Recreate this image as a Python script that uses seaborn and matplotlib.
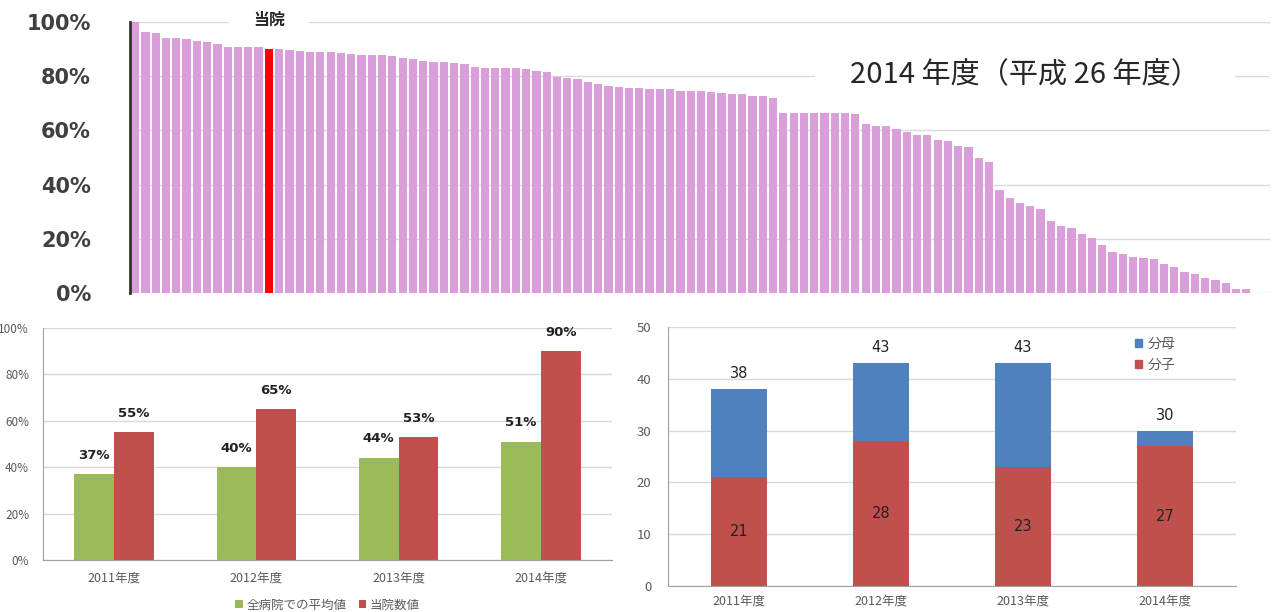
import numpy as np
import pandas as pd
import matplotlib
matplotlib.use("Agg")
import matplotlib.pyplot as plt
import seaborn as sns
from matplotlib.patches import Patch

sns.set_style("white")
plt.rcParams['font.family'] = ['Noto Sans CJK JP', 'DejaVu Sans']

# top chart : rate per hospital, sorted (2014)
rates_2014 = [100, 96.4, 95.8, 94.2, 94.2, 93.6, 93.0, 92.7, 91.8, 90.9, 90.9, 90.8, 90.6, 90.0,
              89.9, 89.5, 89.3, 88.9, 88.9, 88.8, 88.6, 88.2, 88.0, 87.9, 87.7, 87.6, 86.9,
              86.3, 85.6, 85.4, 85.4, 85.0, 84.4, 83.5, 83.1, 83.1, 83.1, 83.1, 82.8, 82.0, 81.7,
              79.8, 79.4, 78.8, 78.0, 77.1, 76.5, 76.1, 75.8, 75.5, 75.2, 75.1, 75.1, 74.7,
              74.5, 74.5, 74.3, 73.7, 73.3, 73.3, 72.7, 72.7, 71.8, 66.5, 66.5, 66.5, 66.5,
              66.5, 66.5, 66.5, 65.9, 62.2, 61.6, 61.6, 60.4, 59.5, 58.3, 58.3, 56.5, 56.1,
              54.2, 53.8, 49.9, 48.5, 38.0, 34.9, 33.3, 32.2, 30.9, 26.6, 24.8, 23.9, 21.9,
              20.4, 17.7, 15.0, 14.4, 13.4, 12.8, 12.4, 10.6, 9.7, 7.9, 7.0, 5.4, 4.8, 3.8, 1.5, 1.5]
own_index = 13

years = ["2011年度", "2012年度", "2013年度", "2014年度"]
avg_all = [37, 40, 44, 51]
own_rate = [55, 65, 53, 90]
denominator = [38, 43, 43, 30]
numerator = [21, 28, 23, 27]

PINK = "#DA9EDA"
OWN = "#FF0000"
GREEN = "#9BBB59"
RED = "#C0504D"
BLUE = "#4F81BD"
GRID = "#D9D9D9"
TXT = "#595959"

W, H = 1274, 612
fig = plt.figure(figsize=(W / 100, H / 100), dpi=100)

def box(x0, y0, x1, y1):
    return [x0 / W, 1 - y1 / H, (x1 - x0) / W, (y1 - y0) / H]

# ---- top chart
ax1 = fig.add_axes(box(130, 22, 1270, 293))
idx = list(range(len(rates_2014)))
cols = [OWN if i == own_index else PINK for i in idx]
sns.barplot(x=idx, y=rates_2014, hue=idx, palette=cols, legend=False,
            width=0.8, linewidth=0, saturation=1, ax=ax1, zorder=2)
ax1.set_xlim(-0.5, 110.3)
ax1.set_ylim(0, 100)
ax1.set_yticks([0, 20, 40, 60, 80, 100])
ax1.set_yticklabels(["0%", "20%", "40%", "60%", "80%", "100%"], fontsize=15,
                    fontweight="bold", color="#404040", family="DejaVu Sans")
ax1.tick_params(axis="y", length=0, pad=28)
ax1.set_xticks([])
ax1.set_xlabel("")
ax1.yaxis.grid(True, color=GRID, linewidth=1)
ax1.set_axisbelow(True)
for s in ["top", "right", "bottom"]:
    ax1.spines[s].set_visible(False)
ax1.spines["left"].set_color("#333333")
ax1.spines["left"].set_linewidth(2)
ax1.spines["left"].set_zorder(5)
# white label boxes sit above the grid but under the bars
ax1.text(own_index, 100.8, "当院", ha="center", va="center", fontsize=11.5, fontweight="bold",
         bbox=dict(facecolor="white", edgecolor="none", boxstyle="square,pad=1.5"),
         clip_on=False, zorder=1)
ax1.text(0.9386, 0.804, "2014 年度（平成 26 年度）", transform=ax1.transAxes, ha="right",
         va="center", fontsize=21,
         bbox=dict(facecolor="white", edgecolor="none", boxstyle="square,pad=1.2"), zorder=1)

# ---- bottom left chart
ax2 = fig.add_axes(box(43, 328, 612, 560))
df2 = pd.DataFrame({
    "year": years * 2,
    "value": avg_all + own_rate,
    "series": ["全病院での平均値"] * 4 + ["当院数値"] * 4,
})
sns.barplot(data=df2, x="year", y="value", hue="series", palette=[GREEN, RED],
            width=0.56, saturation=1, linewidth=0, ax=ax2)
for cont in ax2.containers:
    ax2.bar_label(cont, labels=[f"{v:.0f}%" for v in cont.datavalues], padding=9,
                  fontsize=9.5, fontweight="bold", color="#222222", family="DejaVu Sans")
ax2.set_ylim(0, 100)
ax2.set_yticks(range(0, 101, 20))
ax2.set_yticklabels([f"{v}%" for v in range(0, 101, 20)], fontsize=8.5, color=TXT)
ax2.set_xlabel("")
ax2.set_ylabel("")
ax2.tick_params(axis="x", labelsize=9, labelcolor=TXT, length=0, pad=8)
ax2.tick_params(axis="y", length=4, color="#A0A0A0", pad=6)
ax2.set_xticks([0.5, 1.5, 2.5, 3.5], minor=True)
ax2.tick_params(axis="x", which="minor", length=5, color="#A0A0A0")
ax2.yaxis.grid(True, color=GRID, linewidth=1)
ax2.set_axisbelow(True)
for s in ["top", "right"]:
    ax2.spines[s].set_visible(False)
for s in ["left", "bottom"]:
    ax2.spines[s].set_color("#A0A0A0")
ax2.legend(loc="upper center", bbox_to_anchor=(0.5, -0.135), ncol=2, frameon=False,
           fontsize=9, handlelength=0.6, handleheight=0.6, handletextpad=0.3, columnspacing=1.0,
           labelcolor=TXT, borderpad=0.1)

# ---- bottom right chart
ax3 = fig.add_axes(box(668, 327, 1236, 586))
sns.barplot(x=years, y=denominator, color=BLUE, width=0.4, saturation=1, linewidth=0, ax=ax3)
sns.barplot(x=years, y=numerator, color=RED, width=0.4, saturation=1, linewidth=0, ax=ax3)
for i, (d, n) in enumerate(zip(denominator, numerator)):
    ax3.text(i, d + 3.0, str(d), ha="center", va="center", fontsize=10.5, color="#222222",
             family="DejaVu Sans")
    ax3.text(i, n / 2, str(n), ha="center", va="center", fontsize=10.5, color="#222222",
             family="DejaVu Sans")
ax3.set_ylim(0, 50)
ax3.set_yticks(range(0, 51, 10))
ax3.tick_params(axis="y", labelsize=9.5, labelcolor=TXT, length=4, color="#A0A0A0", pad=8)
ax3.tick_params(axis="x", labelsize=9, labelcolor=TXT, length=0, pad=6)
ax3.set_xticks([0.5, 1.5, 2.5, 3.5], minor=True)
ax3.tick_params(axis="x", which="minor", length=5, color="#A0A0A0")
ax3.yaxis.grid(True, color=GRID, linewidth=1)
ax3.set_axisbelow(True)
for s in ["top", "right"]:
    ax3.spines[s].set_visible(False)
for s in ["left", "bottom"]:
    ax3.spines[s].set_color("#A0A0A0")
ax3.legend(handles=[Patch(color=BLUE, label="分母"), Patch(color=RED, label="分子")],
           loc="upper right", bbox_to_anchor=(0.915, 1.01), frameon=False, fontsize=10,
           handlelength=0.5, handleheight=0.5, handletextpad=0.4, labelspacing=0.5,
           labelcolor=TXT)

fig.savefig("out.png", dpi=100)
